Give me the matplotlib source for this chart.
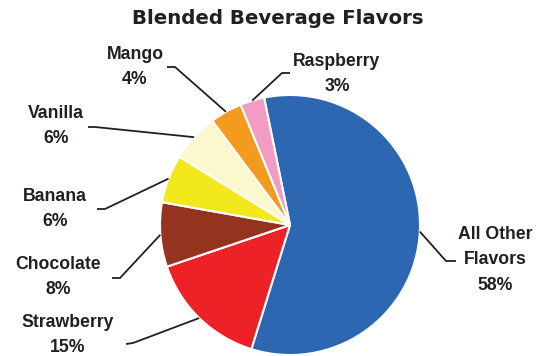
import numpy as np
import matplotlib
matplotlib.use("Agg")
import matplotlib.pyplot as plt

# ---- data ----
flavors = ["All Other\nFlavors", "Strawberry", "Chocolate", "Banana", "Vanilla", "Mango", "Raspberry"]
shares = [58, 15, 8, 6, 6, 4, 3]
colors = ["#2D67B2", "#EC2227", "#95341E", "#F3E81C", "#FBF8CE", "#F49A1F", "#F29BC3"]
title = "Blended Beverage Flavors"

W, H = 548, 356
fig = plt.figure(figsize=(W / 100, H / 100), dpi=100)
ax = fig.add_axes([0, 0, 1, 1])

cx, cy, R = 290, H - 225, 130
wedges, _ = ax.pie(shares, colors=colors, startangle=101.5, counterclock=False,
                   center=(cx, cy), radius=R, frame=True,
                   wedgeprops=dict(edgecolor="white", linewidth=1.5))
ax.set_xlim(0, W)
ax.set_ylim(0, H)
ax.set_aspect("equal")
ax.axis("off")

# label layout (pixel coords, y from top): text center, text-side end, elbow
layout = {
    "All Other\nFlavors": ((495, 260), (456, 261), (446, 261)),
    "Strawberry": ((68, 335), (126, 344), (133, 343)),
    "Chocolate": ((58, 277), (112, 278), (120, 278)),
    "Banana": ((55, 209), (97, 209), (105, 209)),
    "Vanilla": ((56, 126), (88, 127), (95, 127)),
    "Mango": ((135, 67), (167, 67), (175, 67)),
    "Raspberry": ((337, 74), (290, 73), (282, 73)),
}

ink = "#231F20"
for w, name, val in zip(wedges, flavors, shares):
    (tx, ty), (ax0, ay0), (ex, ey) = layout[name]
    mid = np.deg2rad((w.theta1 + w.theta2) / 2)
    px = cx + R * np.cos(mid)
    py = cy + R * np.sin(mid)
    ax.plot([ax0, ex, px], [H - ay0, H - ey, py], color=ink, lw=1.3,
            solid_capstyle="butt", solid_joinstyle="miter")
    ax.text(tx, H - ty, f"{name}\n{val}%", ha="center", va="center",
            fontsize=12.7, fontweight="bold", family="Liberation Sans",
            color=ink, linespacing=1.65)

ax.text(W / 2 + 4, H - 18, title, ha="center", va="center", fontsize=14.2,
        fontweight="bold", family="DejaVu Sans", color=ink)

fig.savefig("out.png", dpi=100)
